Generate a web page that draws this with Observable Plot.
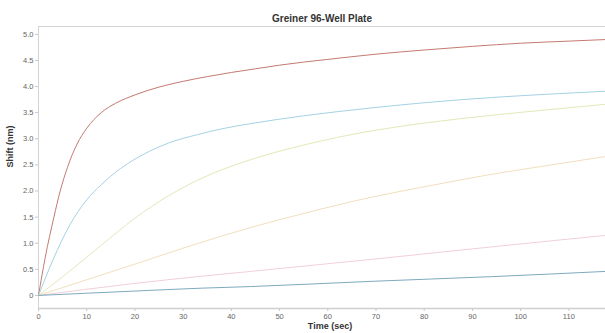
<!DOCTYPE html>
<html>
<head>
<meta charset="utf-8">
<script src="https://cdn.jsdelivr.net/npm/d3@7"></script>
<script src="https://cdn.jsdelivr.net/npm/@observablehq/plot@0.6"></script>
<style>
  html, body { margin: 0; padding: 0; background: #fff; }
  #chart svg { display: block; }
</style>
</head>
<body>
<div id="chart"></div>
<script>
const title = "Greiner 96-Well Plate";
const xLabel = "Time (sec)";
const yLabel = "Shift (nm)";
const xTicks = [0, 10, 20, 30, 40, 50, 60, 70, 80, 90, 100, 110];
const yTicks = [0, 0.5, 1.0, 1.5, 2.0, 2.5, 3.0, 3.5, 4.0, 4.5, 5.0];
const xDomain = [0, 117.6];
const yDomain = [-0.25, 5.15];

const seriesNames = ["s1", "s2", "s3", "s4", "s5", "s6"];
const seriesColors = ["#c47a70", "#a4d2e4", "#e4e8b8", "#f2dfbe", "#f1d0d9", "#7eaac0"];

const t1 = [0, 1.4, 3.2, 4.5, 6, 8, 10, 13, 16, 20, 25, 30, 35, 40, 45, 50, 60, 70, 80, 90, 100, 110, 118];
const y1 = [0, 0.73, 1.5, 2.0, 2.45, 2.9, 3.2, 3.5, 3.68, 3.84, 3.99, 4.1, 4.19, 4.27, 4.34, 4.41, 4.52, 4.62, 4.7, 4.77, 4.83, 4.87, 4.9];

const t2 = [0, 3, 6.5, 10, 13, 17, 20, 23, 27, 33, 38, 44, 55, 69, 80, 94, 105, 118];
const y2 = [0, 0.68, 1.35, 1.83, 2.12, 2.43, 2.61, 2.76, 2.92, 3.08, 3.19, 3.29, 3.44, 3.59, 3.69, 3.79, 3.85, 3.91];

const t3 = [0, 6, 13, 20, 27, 34, 44, 55, 69, 80, 94, 105, 118];
const y3 = [0, 0.43, 0.96, 1.48, 1.91, 2.25, 2.6, 2.88, 3.15, 3.3, 3.45, 3.55, 3.66];

const t4 = [0, 10, 20, 31.5, 44, 55, 69, 80, 94, 105, 118];
const y4 = [0, 0.3, 0.6, 0.95, 1.3, 1.57, 1.88, 2.08, 2.32, 2.48, 2.66];

const t5 = [0, 19, 34, 44, 69, 94, 118];
const y5 = [0, 0.22, 0.37, 0.46, 0.69, 0.93, 1.15];

const t6 = [0, 19, 34, 44, 69, 94, 118];
const y6 = [0, 0.08, 0.14, 0.17, 0.27, 0.36, 0.46];

const allT = [t1, t2, t3, t4, t5, t6];
const allY = [y1, y2, y3, y4, y5, y6];
const rows = [];
seriesNames.forEach((s, i) => {
  allT[i].forEach((t, j) => rows.push({series: s, t: Math.min(t, xDomain[1]), y: allY[i][j]}));
});

const fmtY = d => d === 0 ? "0" : d.toFixed(1);

const chart = Plot.plot({
  width: 605,
  height: 333,
  marginLeft: 38,
  marginRight: 0,
  marginTop: 26,
  marginBottom: 25,
  style: {fontFamily: "Liberation Sans, Arial, sans-serif", background: "#fff"},
  x: {domain: xDomain},
  y: {domain: yDomain},
  color: {domain: seriesNames, range: seriesColors},
  marks: [
    Plot.ruleY([yDomain[1]], {stroke: "#d4d4d4", strokeWidth: 1}),
    Plot.ruleY([yDomain[0]], {stroke: "#cfcfcf", strokeWidth: 1.5}),
    Plot.ruleX([xDomain[0]], {stroke: "#d4d4d4", strokeWidth: 1}),
    Plot.axisX({ticks: xTicks, tickSize: 3, tickPadding: 2, stroke: "#c8c8c8", fill: "#666", fontSize: 7.5, label: null}),
    Plot.axisY({ticks: yTicks, tickSize: 3, tickPadding: 2, stroke: "#c8c8c8", fill: "#666", fontSize: 7.5, tickFormat: fmtY, label: null}),
    Plot.line(rows, {x: "t", y: "y", z: "series", stroke: "series", strokeWidth: 1, curve: "monotone-x"}),
    Plot.text([title], {frameAnchor: "top", dy: -12, fontSize: 10, fontWeight: "bold", fill: "#333"}),
    Plot.text([xLabel], {frameAnchor: "bottom", dy: 20, dx: 8, fontSize: 9, fontWeight: "bold", fill: "#333"}),
    Plot.text([yLabel], {frameAnchor: "left", dx: -28, rotate: -90, fontSize: 9, fontWeight: "bold", fill: "#333"})
  ]
});
document.getElementById("chart").appendChild(chart);
</script>
</body>
</html>
